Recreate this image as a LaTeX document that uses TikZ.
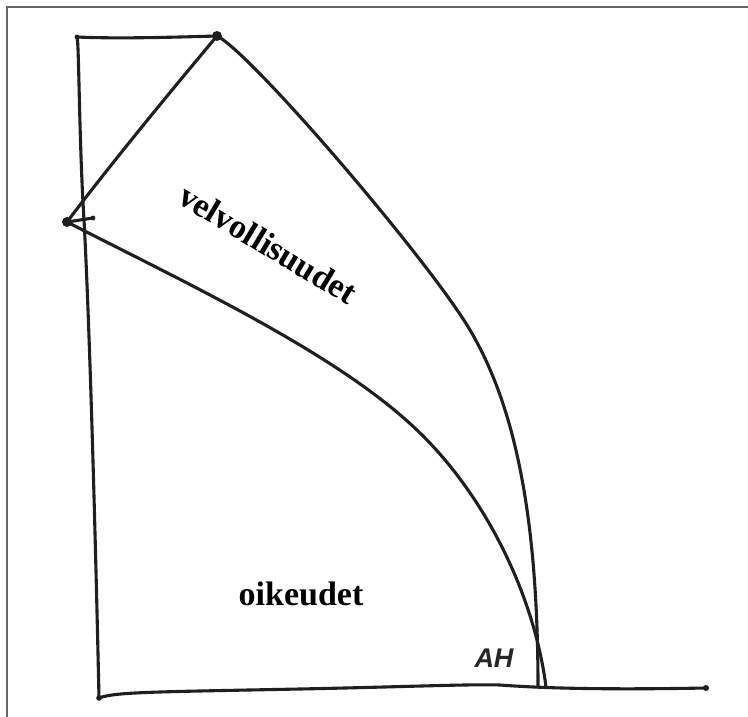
\documentclass[tikz,border=0pt]{standalone}
\usepackage{fontspec}
\setmainfont{Liberation Serif}
\newfontfamily\handfont{Liberation Sans}
\begin{document}
\begin{tikzpicture}[x=1pt,y=-1pt,
  ink/.style={draw=black!88,line width=3.1pt,line cap=round,line join=round},
  frameline/.style={draw=black!60,line width=2pt},
  dotmark/.style={fill=black!88},
  bigword/.style={font=\fontsize{34}{36}\selectfont\bfseries,inner sep=0pt}]
\useasboundingbox (0,0) rectangle (748,717);
\fill[white] (0,0) rectangle (748,717);
% partial frame
\draw[frameline] (7,717) -- (7,7) -- (748,7);
% key points
\coordinate (TL) at (77,37);
\coordinate (TP) at (217,36);
\coordinate (LP) at (67,222);
\coordinate (BL) at (99,698);
\coordinate (BR) at (706,688);
\coordinate (E1) at (538,687);
\coordinate (E2) at (546,687);
\coordinate (TK) at (93,218);
\coordinate (OM) at (467,325);
\coordinate (LM) at (427,440);
% axes
\draw[ink] (TL) .. controls (79,40) and (79,140) .. (84,220) .. controls (90,330) and (96,560) .. (BL);
\draw[ink] (BL) .. controls (115,692) and (150,692) .. (300,689) .. controls (400,687) and (470,684) .. (500,685) .. controls (540,688) and (600,690) .. (BR);
\draw[ink] (TL) .. controls (120,39) and (180,37) .. (TP);
% diagonal
\draw[ink] (TP) .. controls (170,92) and (110,165) .. (LP);
\draw[ink] (LP) -- (TK);
% outer curve
\draw[ink] (TP) .. controls (250,52) and (420,250) .. (OM) .. controls (510,395) and (538,500) .. (E1);
% lower curve
\draw[ink] (LP) .. controls (200,290) and (350,360) .. (LM) .. controls (490,505) and (535,600) .. (E2);
% dots
\fill[dotmark] (TP) circle (5);
\fill[dotmark] (LP) circle (5);
\fill[dotmark] (TL) circle (2.4);
\fill[dotmark] (BL) circle (2.8);
\fill[dotmark] (BR) circle (3);
\fill[dotmark] (TK) circle (2.4);
% labels
\node[bigword,rotate=-31] (velv) at (268,244) {velvollisuudet};
\node[bigword,anchor=base] (oik) at (301,605) {oikeudet};
\node[font=\handfont\fontsize{27}{29}\selectfont\bfseries\itshape,inner sep=0pt,text=black!85] (ah) at (494,658) {AH};
\end{tikzpicture}
\end{document}
